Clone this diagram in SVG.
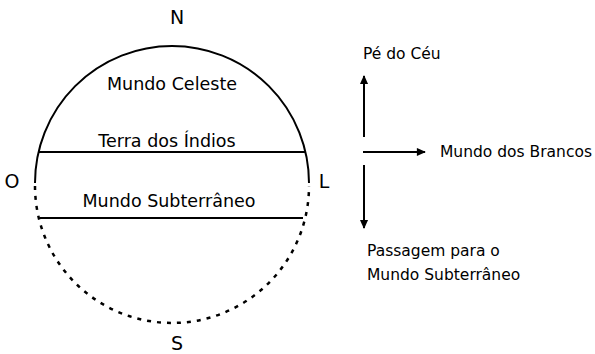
<svg xmlns="http://www.w3.org/2000/svg" width="595" height="354" viewBox="0 0 595 354">
<defs>
<style>
text{font-family:"Comic Sans MS","DejaVu Sans",sans-serif;fill:#000}
.big{font-size:19px}
.mid{font-size:17.5px}
.sm{font-size:15.5px}
.ln{stroke:#000;stroke-width:2;fill:none}
.dot{stroke:#000;stroke-width:2.5;fill:none;stroke-dasharray:4 6}
</style>
<marker id="ah" viewBox="0 0 10 10" refX="9" refY="5" markerWidth="10" markerHeight="9" markerUnits="userSpaceOnUse" orient="auto">
<path d="M0,0.5 L10,5 L0,9.5 Z" fill="#000"/>
</marker>
</defs>
<rect width="595" height="354" fill="#fff"/>
<g id="globe">
<path class="ln" d="M35,183 A137,137 0 0 1 309,183"/>
<path class="dot" d="M35,186 A137,137 0 0 0 309,186"/>
<line class="ln" x1="38" y1="152" x2="306" y2="152"/>
<line class="ln" x1="40" y1="218" x2="303" y2="218"/>
</g>
<g id="labels">
<text class="big" x="177" y="24" text-anchor="middle">N</text>
<text class="big" x="12" y="188" text-anchor="middle">O</text>
<text class="big" x="324" y="188" text-anchor="middle">L</text>
<text class="big" x="177" y="350" text-anchor="middle">S</text>
</g>
<g id="mundo-celeste"><text class="mid" x="172" y="90" text-anchor="middle">Mundo Celeste</text></g>
<g id="terra-indios"><text class="mid" x="167" y="147" text-anchor="middle">Terra dos Índios</text></g>
<g id="mundo-subterraneo"><text class="mid" x="169" y="207" text-anchor="middle">Mundo Subterrâneo</text></g>
<g id="connectors">
<line class="ln" x1="364" y1="137" x2="364" y2="76" marker-end="url(#ah)"/>
<line class="ln" x1="363" y1="152" x2="425" y2="152" marker-end="url(#ah)"/>
<line class="ln" x1="364" y1="165" x2="364" y2="228" marker-end="url(#ah)"/>
</g>
<g id="pe-do-ceu"><text class="sm" x="363" y="59">Pé do Céu</text></g>
<g id="mundo-brancos"><text class="sm" x="440" y="157">Mundo dos Brancos</text></g>
<g id="passagem"><text class="sm" x="367" y="256">Passagem para o</text><text class="sm" x="367" y="280">Mundo Subterrâneo</text></g>
</svg>
